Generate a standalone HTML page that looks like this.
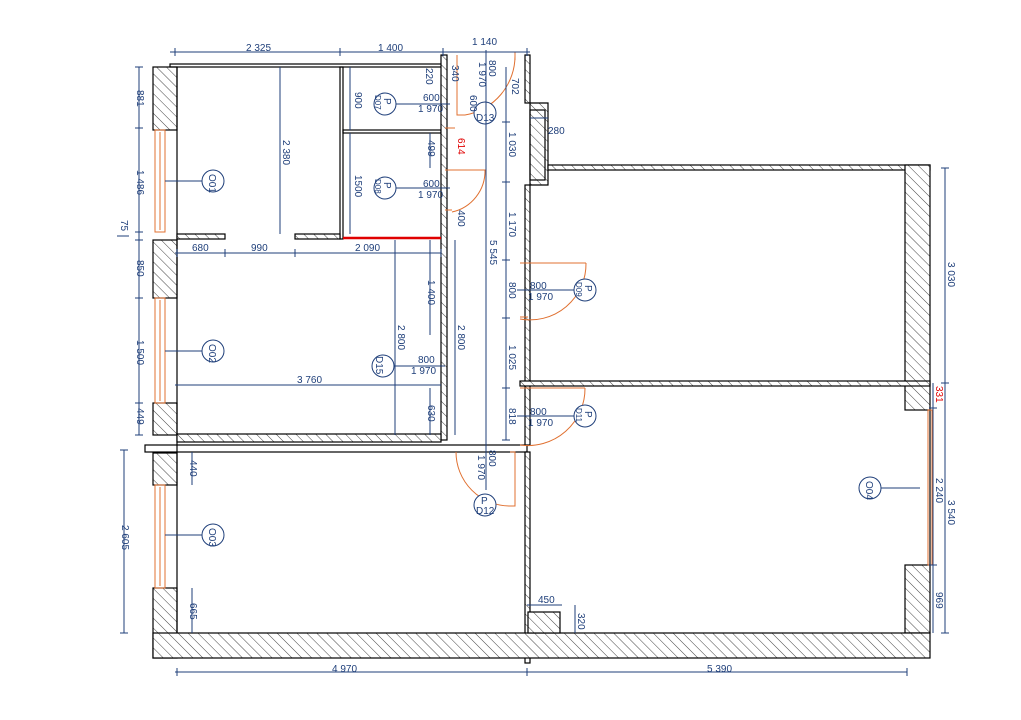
<!DOCTYPE html>
<html><head><meta charset="utf-8"><style>
html,body{margin:0;padding:0;background:#fff;width:1021px;height:720px;overflow:hidden}
svg{display:block}
text{font-family:"Liberation Sans",sans-serif;font-size:10px;fill:#1f3f7a}
.d{stroke:#1f3f7a;stroke-width:1;fill:none}
.w{stroke:#000;stroke-width:1.2;fill:url(#h)}
.wl{stroke:#000;stroke-width:1.2;fill:none}
.o{stroke:#e07030;stroke-width:1;fill:none}
.c{stroke:#1f3f7a;stroke-width:1;fill:#fff}
</style></head><body>
<svg width="1021" height="720" viewBox="0 0 1021 720" xmlns="http://www.w3.org/2000/svg">
<defs>
<pattern id="h" patternUnits="userSpaceOnUse" width="7" height="7" patternTransform="rotate(-45)">
<rect width="7" height="7" fill="#fff"/><line x1="0" y1="0" x2="0" y2="7" stroke="#444" stroke-width="1"/>
</pattern>
</defs>

<rect class="w" x="153" y="67" width="24" height="63"/>
<rect class="w" x="153" y="240" width="24" height="58"/>
<rect class="w" x="153" y="403" width="24" height="32"/>
<rect class="w" x="153" y="453" width="24" height="32"/>
<rect class="w" x="153" y="588" width="24" height="70"/>
<line class="wl" x1="177" y1="67" x2="177" y2="658"/>
<rect class="o" x="155" y="130" width="10" height="102"/><line class="o" x1="160" y1="132" x2="160" y2="230"/>
<rect class="o" x="155" y="298" width="10" height="105"/><line class="o" x1="160" y1="300" x2="160" y2="401"/>
<rect class="o" x="155" y="485" width="10" height="103"/><line class="o" x1="160" y1="487" x2="160" y2="586"/>
<rect class="wl" x="170" y="64" width="273" height="3"/>
<rect class="wl" x="340" y="67" width="3" height="172"/>
<rect class="wl" x="343" y="130" width="98" height="3"/>
<rect class="w" x="441" y="55" width="6" height="385"/>
<rect class="w" x="177" y="234" width="48" height="5"/>
<rect class="w" x="295" y="234" width="45" height="5"/>
<line x1="343" y1="238" x2="441" y2="238" stroke="#e00000" stroke-width="2.5"/>
<rect class="w" x="177" y="434" width="264" height="8"/>
<rect class="wl" x="145" y="445" width="382" height="7"/>
<rect class="w" x="525" y="55" width="5" height="48"/>
<rect class="w" x="525" y="185" width="5" height="260"/>
<rect class="w" x="525" y="452" width="5" height="211"/>
<path class="w" d="M530 103 H548 V185 H530 Z"/>
<rect class="wl" x="530" y="110" width="15" height="70" fill="#fff"/>
<rect class="w" x="548" y="165" width="382" height="5"/>
<rect class="w" x="905" y="165" width="25" height="245"/>
<rect class="w" x="905" y="565" width="25" height="68"/>
<line class="wl" x1="930" y1="410" x2="930" y2="565"/>
<rect class="o" x="928" y="410" width="4" height="155"/>
<rect class="w" x="520" y="381" width="410" height="5"/>
<rect class="w" x="153" y="633" width="777" height="25"/>
<rect class="w" x="528" y="612" width="32" height="21"/>

<path class="o" d="M457 55 V115 H465 M465 115 A60 60 0 0 0 515 55 M515 52 V60"/>
<path class="o" d="M445 170 H452 M452 212 A42 42 0 0 0 485 170 H452"/>
<path class="o" d="M445 128 H455 M445 210 H452"/>
<path class="o" d="M520 263 H586 M520 319 A56 56 0 0 0 586 263 M520 317 H528"/>
<path class="o" d="M520 388 H585 M520 445 A57 57 0 0 0 585 388"/>
<path class="o" d="M456 452 A54 54 0 0 0 510 506 H515 V452 H510"/>

<g>
<circle class="c" cx="213" cy="181" r="11"/><text transform="translate(209,174) rotate(90)">O01</text>
<circle class="c" cx="213" cy="351" r="11"/><text transform="translate(209,344) rotate(90)">O02</text>
<circle class="c" cx="213" cy="535" r="11"/><text transform="translate(209,528) rotate(90)">O03</text>
<circle class="c" cx="870" cy="488" r="11"/><text transform="translate(866,481) rotate(90)">O04</text>
<circle class="c" cx="385" cy="104" r="11"/><text transform="translate(384,98) rotate(90)">P</text><text transform="translate(375,95) rotate(90)" style="font-size:8px">D07</text>
<circle class="c" cx="385" cy="188" r="11"/><text transform="translate(384,182) rotate(90)">P</text><text transform="translate(375,179) rotate(90)" style="font-size:8px">D08</text>
<circle class="c" cx="383" cy="366" r="11"/><text transform="translate(376,356) rotate(90)">D15</text>
<circle class="c" cx="585" cy="290" r="11"/><text transform="translate(585,285) rotate(90)">P</text><text transform="translate(576,282) rotate(90)" style="font-size:8px">D09</text>
<circle class="c" cx="585" cy="416" r="11"/><text transform="translate(585,411) rotate(90)">P</text><text transform="translate(576,408) rotate(90)" style="font-size:8px">D11</text>
<circle class="c" cx="485" cy="113" r="11"/><text x="476" y="121">D13</text>
<circle class="c" cx="485" cy="505" r="11"/><text x="481" y="504">P</text><text x="476" y="514">D12</text>
</g>
<g class="d">
<line x1="165" y1="181" x2="202" y2="181"/><line x1="165" y1="351" x2="202" y2="351"/><line x1="165" y1="535" x2="202" y2="535"/>
<line x1="881" y1="488" x2="920" y2="488"/>
<line x1="396" y1="104" x2="450" y2="104"/><line x1="396" y1="188" x2="450" y2="188"/>
<line x1="394" y1="366" x2="445" y2="366"/>
<line x1="517" y1="290" x2="574" y2="290"/><line x1="517" y1="416" x2="574" y2="416"/>
<line x1="170" y1="52" x2="530" y2="52"/>
<line x1="175" y1="48" x2="175" y2="56"/><line x1="340" y1="48" x2="340" y2="56"/><line x1="443" y1="48" x2="443" y2="56"/><line x1="527" y1="48" x2="527" y2="56"/>
<line x1="139" y1="67" x2="139" y2="435"/>
<line x1="135" y1="67" x2="143" y2="67"/><line x1="135" y1="128" x2="143" y2="128"/><line x1="135" y1="232" x2="143" y2="232"/><line x1="135" y1="240" x2="143" y2="240"/><line x1="135" y1="298" x2="143" y2="298"/><line x1="135" y1="403" x2="143" y2="403"/><line x1="135" y1="435" x2="143" y2="435"/>
<line x1="124" y1="450" x2="124" y2="633"/><line x1="120" y1="450" x2="128" y2="450"/><line x1="120" y1="633" x2="128" y2="633"/>
<line x1="175" y1="253" x2="441" y2="253"/><line x1="177" y1="249" x2="177" y2="257"/><line x1="225" y1="249" x2="225" y2="257"/><line x1="295" y1="249" x2="295" y2="257"/><line x1="441" y1="249" x2="441" y2="257"/>
<line x1="175" y1="385" x2="441" y2="385"/>
<line x1="280" y1="67" x2="280" y2="234"/>
<line x1="350" y1="67" x2="350" y2="130"/><line x1="350" y1="133" x2="350" y2="234"/>
<line x1="430" y1="133" x2="430" y2="168"/>
<line x1="395" y1="240" x2="395" y2="435"/><line x1="430" y1="240" x2="430" y2="335"/><line x1="430" y1="388" x2="430" y2="435"/>
<line x1="455" y1="240" x2="455" y2="435"/>
<line x1="486" y1="50" x2="486" y2="490"/><line x1="506" y1="67" x2="506" y2="440"/>
<line x1="502" y1="122" x2="510" y2="122"/><line x1="502" y1="182" x2="510" y2="182"/><line x1="502" y1="260" x2="510" y2="260"/><line x1="502" y1="318" x2="510" y2="318"/><line x1="502" y1="388" x2="510" y2="388"/><line x1="502" y1="440" x2="510" y2="440"/>
<line x1="530" y1="118" x2="548" y2="118"/>
<line x1="945" y1="168" x2="945" y2="633"/><line x1="941" y1="168" x2="949" y2="168"/><line x1="941" y1="383" x2="949" y2="383"/><line x1="941" y1="633" x2="949" y2="633"/>
<line x1="933" y1="383" x2="933" y2="633"/><line x1="929" y1="408" x2="937" y2="408"/><line x1="929" y1="565" x2="937" y2="565"/>
<line x1="175" y1="672" x2="907" y2="672"/><line x1="177" y1="668" x2="177" y2="676"/><line x1="527" y1="668" x2="527" y2="676"/><line x1="907" y1="668" x2="907" y2="676"/>
<line x1="527" y1="605" x2="562" y2="605"/><line x1="575" y1="605" x2="575" y2="633"/>
<line x1="192" y1="452" x2="192" y2="485"/><line x1="192" y1="588" x2="192" y2="633"/>
<line x1="117" y1="236" x2="129" y2="236"/>
</g>

<text x="246" y="51">2 325</text><text x="378" y="51">1 400</text><text x="472" y="45">1 140</text>
<text x="192" y="251">680</text><text x="251" y="251">990</text><text x="355" y="251">2 090</text>
<text x="297" y="383">3 760</text>
<text x="423" y="101">600</text><text x="418" y="112">1 970</text>
<text x="423" y="187">600</text><text x="418" y="198">1 970</text>
<text x="418" y="363">800</text><text x="411" y="374">1 970</text>
<text x="530" y="289">800</text><text x="528" y="300">1 970</text>
<text x="530" y="415">800</text><text x="528" y="426">1 970</text>
<text x="538" y="603">450</text>
<text x="332" y="672">4 970</text><text x="707" y="672">5 390</text>
<text x="548" y="134">280</text>
<g>
<text transform="translate(137,90) rotate(90)">881</text>
<text transform="translate(137,170) rotate(90)">1 486</text>
<text transform="translate(121,220) rotate(90)">75</text>
<text transform="translate(137,260) rotate(90)">850</text>
<text transform="translate(137,340) rotate(90)">1 500</text>
<text transform="translate(137,408) rotate(90)">449</text>
<text transform="translate(122,525) rotate(90)">2 605</text>
<text transform="translate(190,460) rotate(90)">440</text>
<text transform="translate(190,603) rotate(90)">665</text>
<text transform="translate(283,140) rotate(90)">2 380</text>
<text transform="translate(355,92) rotate(90)">900</text>
<text transform="translate(355,175) rotate(90)">1500</text>
<text transform="translate(428,140) rotate(90)">499</text>
<text transform="translate(428,280) rotate(90)">1 400</text>
<text transform="translate(428,405) rotate(90)">630</text>
<text transform="translate(398,325) rotate(90)">2 800</text>
<text transform="translate(458,325) rotate(90)">2 800</text>
<text transform="translate(458,210) rotate(90)">400</text>
<text transform="translate(458,138) rotate(90)" style="fill:#e00000">614</text>
<text transform="translate(490,240) rotate(90)">5 545</text>
<text transform="translate(509,132) rotate(90)">1 030</text>
<text transform="translate(509,212) rotate(90)">1 170</text>
<text transform="translate(509,282) rotate(90)">800</text>
<text transform="translate(509,345) rotate(90)">1 025</text>
<text transform="translate(509,408) rotate(90)">818</text>
<text transform="translate(489,450) rotate(90)">800</text>
<text transform="translate(478,455) rotate(90)">1 970</text>
<text transform="translate(426,68) rotate(90)">220</text>
<text transform="translate(452,65) rotate(90)">340</text>
<text transform="translate(489,60) rotate(90)">800</text>
<text transform="translate(479,62) rotate(90)">1 970</text>
<text transform="translate(512,78) rotate(90)">702</text>
<text transform="translate(470,95) rotate(90)">600</text>
<text transform="translate(948,262) rotate(90)">3 030</text>
<text transform="translate(948,500) rotate(90)">3 540</text>
<text transform="translate(936,478) rotate(90)">2 240</text>
<text transform="translate(936,592) rotate(90)">969</text>
<text transform="translate(936,386) rotate(90)" style="fill:#e00000">331</text>
<text transform="translate(578,613) rotate(90)">320</text>
</g>
</svg>
</body></html>
